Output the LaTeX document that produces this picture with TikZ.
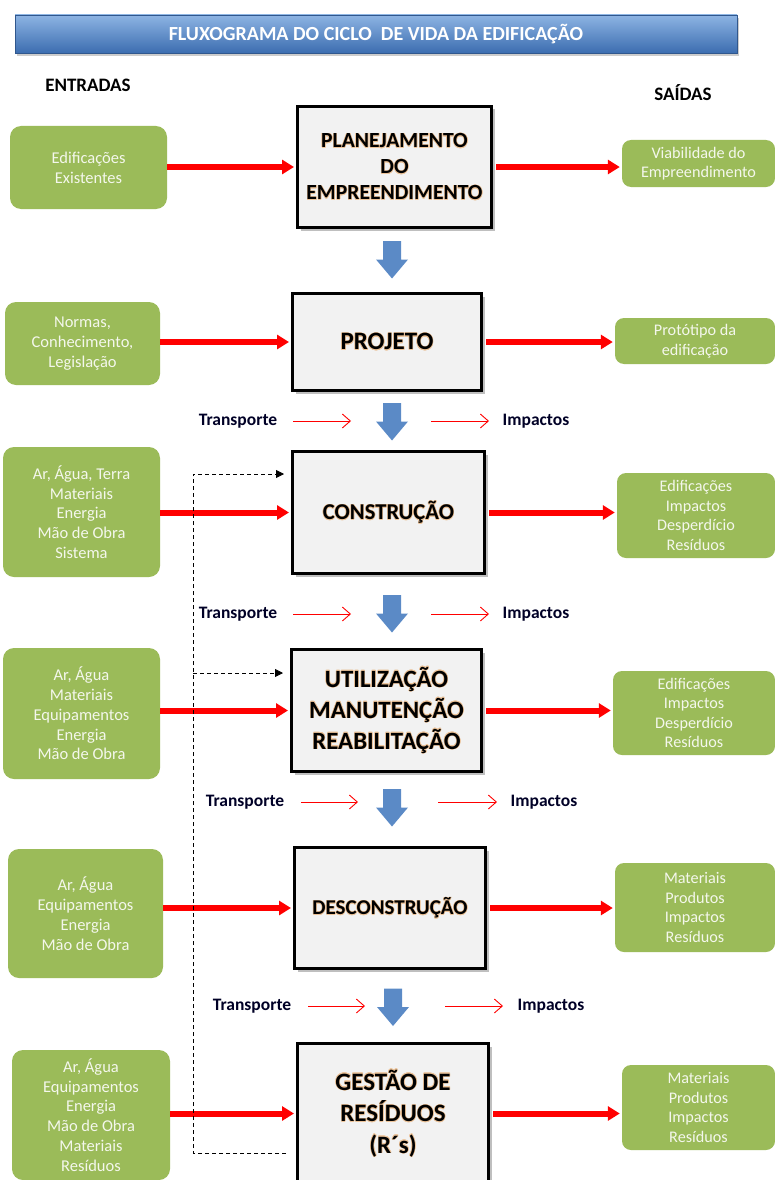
\documentclass[tikz,border=0pt]{standalone}
\usepackage{fontspec}
\setmainfont{Carlito}
\usepackage{contour}
\contourlength{0.5pt}
\contournumber{16}
\usetikzlibrary{arrows.meta,shadows}
\definecolor{gr}{HTML}{9BBB59}
\definecolor{redc}{HTML}{FF0000}
\definecolor{bluea}{HTML}{5B8AC6}
\definecolor{stagefill}{HTML}{F2F2F2}
\definecolor{glowc}{HTML}{EDC49A}
\definecolor{titletop}{HTML}{8DB4E3}
\definecolor{titlemid}{HTML}{5585C6}
\definecolor{titlebot}{HTML}{3C6DB0}
\definecolor{gtext}{HTML}{F4F7EC}
\newcommand\gw[1]{\contour{glowc}{#1}}
\begin{document}
\begin{tikzpicture}[x=1pt,y=-1pt,
  stage/.style={draw=black, line width=3pt, fill=stagefill, align=center, inner sep=0pt,
    drop shadow={shadow xshift=3pt, shadow yshift=-3pt, fill=black!50, opacity=.5}},
  stagetxt/.style 2 args={font=\bfseries\fontsize{#1}{#2}\selectfont},
  gbox/.style={fill=gr, rounded corners=11pt, align=center, text=gtext, inner sep=0pt,
    font=\fontsize{16.5}{19.8}\selectfont},
  rbox/.style={gbox, rounded corners=9pt, font=\fontsize{16.2}{19.5}\selectfont},
  redarr/.style={draw=redc, line width=6pt, -{Triangle[length=12pt,width=14pt]}},
  thinarr/.style={draw=redc, line width=0.9pt, -{Straight Barb[length=8pt,width=14pt]}},
  bluedn/.pic={\fill[bluea] (-9,-18.5) -- (9,-18.5) -- (9,0) -- (16,0) -- (0,19) -- (-16,0) -- (-9,0) -- cycle;},
  lbl/.style={font=\bfseries\fontsize{17.5}{20}\selectfont, text=black!85!blue, inner sep=0pt},
  dashl/.style={draw=black, line width=0.8pt, dash pattern=on 4pt off 3pt},
  dtip/.style={-{Triangle[length=8pt,width=8pt]}}
]
\useasboundingbox (0,0) rectangle (775,1180);
\clip (0,0) rectangle (775,1180);

% title
\node[minimum width=722pt, minimum height=38pt, top color=titletop, middle color=titlemid, bottom color=titlebot,
  draw=titlebot!80!black, line width=0.4pt,
  drop shadow={shadow xshift=2pt, shadow yshift=-3pt, fill=black!50, opacity=.4},
  text=white, font=\bfseries\fontsize{20}{22}\selectfont] (title) at (376,34)
  {FLUXOGRAMA DO CICLO\ \ DE VIDA DA EDIFICAÇÃO};

\node[font=\bfseries\fontsize{19}{21}\selectfont] (ent) at (88,85) {ENTRADAS};
\node[font=\bfseries\fontsize{19}{21}\selectfont] (sai) at (683,93) {SAÍDAS};

% stages
\node[stage, minimum width=194pt, minimum height=121pt, stagetxt={21.6}{26}] (p1) at (394.5,167)
  {\gw{PLANEJAMENTO}\\\gw{DO}\\\gw{EMPREENDIMENTO}};
\node[stage, minimum width=189pt, minimum height=97pt, stagetxt={25}{28}] (p2) at (387,342)
  {\gw{PROJETO}};
\node[stage, minimum width=192pt, minimum height=122pt, stagetxt={22.6}{26}] (p3) at (388.5,512.5)
  {\gw{CONSTRUÇÃO}};
\node[stage, minimum width=190pt, minimum height=122pt, stagetxt={24.8}{31}] (p4) at (386.5,710.5)
  {\gw{UTILIZAÇÃO}\\\gw{MANUTENÇÃO}\\\gw{REABILITAÇÃO}};
\node[stage, minimum width=191pt, minimum height=121pt, stagetxt={21}{26}] (p5) at (390,908)
  {\gw{DESCONSTRUÇÃO}};
\node[stage, minimum width=191pt, minimum height=140pt, stagetxt={25}{31.5}] (p6) at (393,1113.5)
  {\gw{GESTÃO DE}\\\gw{RESÍDUOS}\\\gw{(R´s)}};

% inputs
\node[gbox, minimum width=157pt, minimum height=83pt] (l1) at (88.5,167.5) {Edificações\\Existentes};
\node[gbox, minimum width=155pt, minimum height=83pt] (l2) at (82.5,343.5) {Normas,\\Conhecimento,\\Legislação};
\node[gbox, minimum width=157pt, minimum height=130pt] (l3) at (81.5,512) {Ar, Água, Terra\\Materiais\\Energia\\Mão de Obra\\Sistema};
\node[gbox, minimum width=157pt, minimum height=131pt] (l4) at (81.5,713.5) {Ar, Água\\Materiais\\Equipamentos\\Energia\\Mão de Obra};
\node[gbox, minimum width=155pt, minimum height=129pt] (l5) at (85.5,913.5) {Ar, Água\\Equipamentos\\Energia\\Mão de Obra};
\node[gbox, minimum width=158pt, minimum height=130pt] (l6) at (91,1115) {Ar, Água\\Equipamentos\\Energia\\Mão de Obra\\Materiais\\Resíduos};

% outputs
\node[rbox, minimum width=153pt, minimum height=47pt] (r1) at (698.5,163.5) {Viabilidade do\\Empreendimento};
\node[rbox, minimum width=160pt, minimum height=46pt] (r2) at (695,341) {Protótipo da\\edificação};
\node[rbox, minimum width=158pt, minimum height=85pt] (r3) at (696,515.5) {Edificações\\Impactos\\Desperdício\\Resíduos};
\node[rbox, minimum width=162pt, minimum height=84pt] (r4) at (694,713) {Edificações\\Impactos\\Desperdício\\Resíduos};
\node[rbox, minimum width=160pt, minimum height=89pt] (r5) at (695,907.5) {Materiais\\Produtos\\Impactos\\Resíduos};
\node[rbox, minimum width=153pt, minimum height=85pt] (r6) at (698.5,1107.5) {Materiais\\Produtos\\Impactos\\Resíduos};

% red input/output arrows
\foreach \i in {1,...,6}{
  \draw[redarr, shorten >=2pt] (l\i.east |- p\i.west) -- (p\i.west);
  \draw[redarr, shorten <=3pt, shorten >=2pt] (p\i.east) -- (r\i.west |- p\i.east);
}

% blue arrows between stages
\pic (b1) at (392,259.5) {bluedn};
\pic (b2) at (392,421.5) {bluedn};
\pic (b3) at (392,613.5) {bluedn};
\pic (b4) at (392,807.5) {bluedn};
\pic (b5) at (393,1007) {bluedn};

% transport / impacts rows
\node[lbl] (t1) at (238,421) {Transporte};
\node[lbl] (i1) at (536,421) {Impactos};
\node[lbl] (t2) at (238,614) {Transporte};
\node[lbl] (i2) at (536,614) {Impactos};
\node[lbl] (t3) at (245,802) {Transporte};
\node[lbl] (i3) at (544,802) {Impactos};
\node[lbl] (t4) at (252,1006) {Transporte};
\node[lbl] (i4) at (551,1006) {Impactos};

\coordinate (a1s) at (293,421); \coordinate (a1e) at (351,421);
\coordinate (c1s) at (431,421); \coordinate (c1e) at (489,421);
\coordinate (a2s) at (293,614); \coordinate (a2e) at (351,614);
\coordinate (c2s) at (431,614); \coordinate (c2e) at (489,614);
\coordinate (a3s) at (301,802); \coordinate (a3e) at (358,802);
\coordinate (c3s) at (438,802); \coordinate (c3e) at (497,802);
\coordinate (a4s) at (308,1006); \coordinate (a4e) at (365,1006);
\coordinate (c4s) at (445,1006); \coordinate (c4e) at (503,1006);
\foreach \i in {1,...,4}{
  \draw[thinarr] (a\i s) -- (a\i e);
  \draw[thinarr] (c\i s) -- (c\i e);
}

% dashed feedback line
\coordinate (dc1) at (193,474);
\coordinate (dc2) at (193,673);
\coordinate (dc3) at (193,1153);
\draw[dashl, dtip, shorten <=10pt, shorten >=7pt] (p6.west |- dc3) -- (dc3) -- (dc1) -- (p3.west |- dc1);
\draw[dashl, dtip, shorten >=7pt] (dc2) -- (p4.west |- dc2);
\end{tikzpicture}
\end{document}
